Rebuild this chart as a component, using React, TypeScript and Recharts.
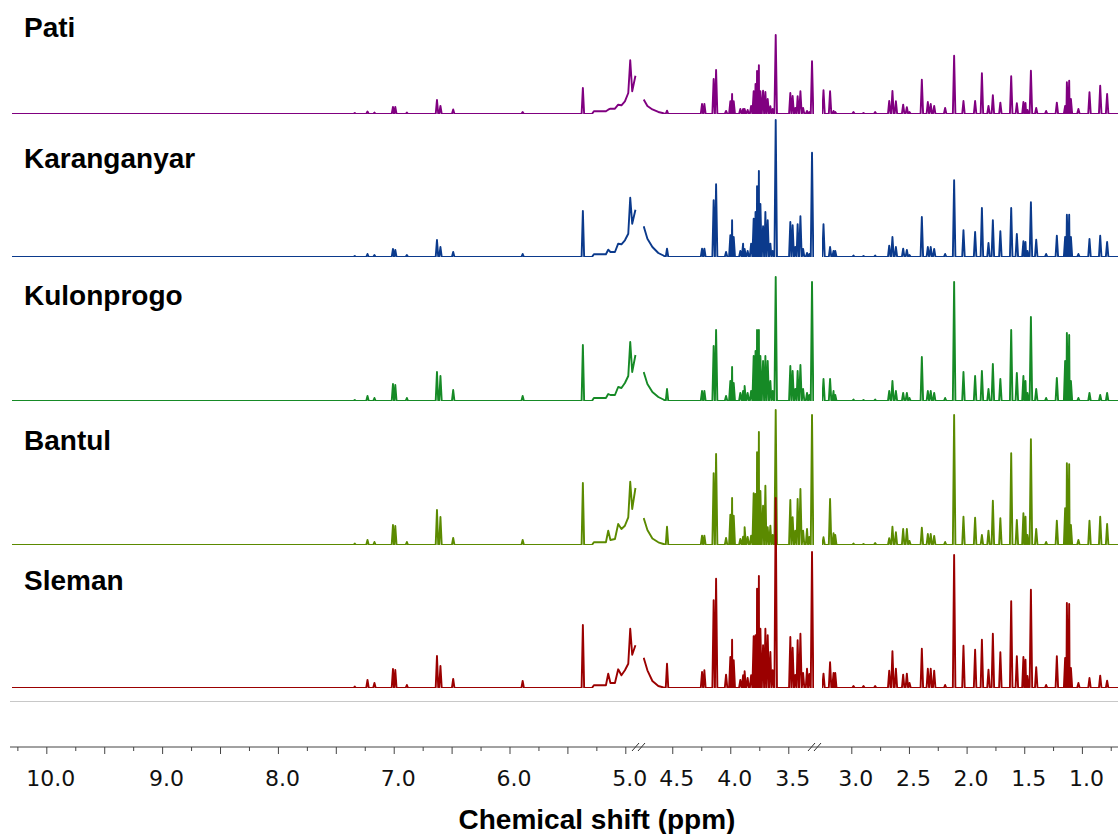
import React from 'react';
import { LineChart, Line, XAxis, YAxis } from 'recharts';

// peak positions (ppm), shared by all five extracts
const PEAK_PPM = [
  7.34, 7.23, 7.17, 7.01, 6.99, 6.89, 6.63, 6.60, 6.49, 5.89, 5.37,
  4.553, 4.251, 4.231, 4.151, 4.130, 4.044, 4.007, 3.992, 3.978, 3.921, 3.897, 3.884,
  3.858, 3.828, 3.806, 3.790, 3.777, 3.761, 3.748, 3.725, 3.705, 3.685, 3.662, 3.642,
  3.616, 3.490, 3.470, 3.447, 3.427, 3.403, 3.380, 3.346, 3.326, 3.303,
  3.247, 3.190, 3.160, 3.145, 2.987, 2.90, 2.799, 2.677, 2.649, 2.619, 2.556, 2.524,
  2.501, 2.394, 2.342, 2.317, 2.287, 2.192, 2.114, 2.033, 1.932, 1.873, 1.816, 1.778,
  1.713, 1.619, 1.570, 1.513, 1.495, 1.478, 1.448, 1.402, 1.316, 1.223, 1.151, 1.136,
  1.116, 1.101, 1.036, 0.940, 0.847, 0.787,
];

// peak heights (arbitrary units) per extract, same order as PEAK_PPM
const PATI_PEAKS = [
  1, 2.5, 1.5, 7, 7, 1.5, 14, 8, 4.5, 2, 26,
  3.3, 10, 10, 35, 44, 3, 12.7, 20, 12.7, 5, 5, 5,
  4, 8, 22.7, 30, 43, 48.7, 22.7, 23.3, 22, 15, 7.7, 5,
  79, 21, 18, 6, 17.7, 22.7, 6, 3, 2, 52.7,
  23.7, 22.7, 3, 2, 2, 1, 2, 13, 23, 12.7, 9.3, 6.7,
  2, 34.3, 12, 10, 8, 6, 58.3, 13, 13, 40.7, 8, 18.7,
  11.3, 37.7, 10.7, 12, 11, 4, 43.3, 6, 3, 11.3, 8, 31.7,
  33.3, 15, 5, 21.7, 28.3, 20,
];
const KARANGANYAR_PEAKS = [
  1, 3, 2, 8, 7, 2, 17, 10, 5, 3, 46,
  8.3, 8.3, 8.3, 56.7, 72.7, 5, 21.7, 36.7, 20, 6, 13.3, 8,
  6, 13.3, 38.3, 45, 70.7, 86, 53, 30.7, 45, 36.7, 13.3, 6,
  137, 35, 31.7, 10, 32.7, 40.7, 8, 4, 3, 104.3,
  32.7, 10, 6, 6, 1.5, 1, 1.5, 11.3, 20, 10, 8.3, 7,
  2, 40, 10, 10, 8, 3, 76.7, 26.7, 25, 49, 14, 36.7,
  25.7, 49, 23, 15.7, 15, 6, 54.7, 17.3, 3, 21.3, 20, 42.3,
  42.3, 20, 3, 18, 21.3, 15,
];
const KULONPROGO_PEAKS = [
  1, 5, 3, 17, 16, 3, 29, 25, 11, 5, 56,
  12, 10, 10, 55, 71, 5, 20, 34, 18, 8, 10, 15,
  8, 10, 45, 50, 71, 71, 45, 40, 45, 40, 20, 10,
  124, 35, 30, 12, 30, 36, 12, 8, 6, 119,
  22, 22, 10, 6, 1.5, 1, 1.5, 10, 20, 10, 8, 8,
  3, 44, 10, 10, 8, 3, 119, 29, 25, 30, 12, 37,
  22, 71, 28, 25, 20, 8, 84, 12, 3, 23, 40, 68,
  66, 20, 3, 8, 6, 8,
];
const BANTUL_PEAKS = [
  1.5, 5, 3, 20, 19, 3, 35, 28, 7, 5, 62,
  18.3, 9.3, 9.3, 71.7, 91, 7, 30.3, 47, 29.3, 6, 8.3, 17.7,
  8, 9.3, 51.7, 51, 92.7, 113, 54, 39.3, 59.3, 17.7, 19.3, 10,
  135, 45, 27.7, 14.3, 46, 56, 14.3, 16, 8, 130,
  7.7, 46, 11.7, 10, 1.5, 1, 2, 6.7, 18.3, 12.7, 16, 16,
  4, 17.3, 11, 11, 9, 3, 130, 28.3, 27.3, 10, 14.3, 44.3,
  26.7, 91.7, 25, 31.7, 28.3, 10, 105.7, 16, 3, 24.3, 36.7, 81.7,
  80.7, 20, 5, 24.3, 28.3, 21,
];
const SLEMAN_PEAKS = [
  1.5, 8, 5, 19, 18, 3, 32, 22, 9, 7, 63,
  24.3, 16, 17.7, 87.7, 109.3, 13.3, 31, 48.3, 27.7, 8, 12.7, 16.7,
  10, 12.7, 51.7, 52.7, 99.3, 112, 59.3, 42.7, 59.3, 52.7, 36, 17.7,
  190, 51, 40.3, 13, 47.7, 54.3, 15, 19.3, 14, 136,
  14.3, 25.7, 15, 15, 2, 2, 2, 17.3, 36.7, 19.3, 13.3, 14.3,
  5, 39.3, 19.3, 19.3, 17.3, 3, 133, 42.3, 38.3, 48.3, 18.3, 54.3,
  35.7, 86.7, 31.7, 31, 28.3, 12, 98.3, 20.7, 3, 31.7, 30, 85,
  84, 20, 5, 10, 12.3, 7.3,
];

// broad water shoulder either side of the suppressed region
const RAMP_A_PPM = [5.292, 5.275, 5.171, 5.151, 5.132, 5.093, 5.065, 5.037, 5.007, 4.978, 4.961, 4.944, 4.916];
const PATI_RAMP_A = [0, 2.7, 2.7, 4.3, 5.3, 5.3, 9.3, 8.7, 12.7, 21, 53.7, 22.7, 38.3];
const KARANGANYAR_RAMP_A = [0, 2.7, 2.7, 7.3, 5, 5, 13.3, 12.7, 16.7, 23.3, 59.3, 33.3, 47.3];
const KULONPROGO_RAMP_A = [0, 3, 3, 7, 6, 6, 14, 13, 18, 25, 59, 29, 46];
const BANTUL_RAMP_A = [0, 2.7, 2.7, 14.3, 5, 6, 21, 16, 19.3, 27.7, 63.3, 36, 57];
const SLEMAN_RAMP_A = [0, 2.7, 2.7, 14.3, 5, 5, 18.7, 12.7, 17.7, 24.3, 59.3, 33.3, 42.7];

const RAMP_B_PPM = [4.754, 4.722, 4.679, 4.628, 4.584];
const PATI_RAMP_B = [14.4, 8, 4.5, 2, 0.7];
const KARANGANYAR_RAMP_B = [30.7, 18.3, 10, 4, 1.5];
const KULONPROGO_RAMP_B = [29, 17, 9, 4, 1.5];
const BANTUL_RAMP_B = [27, 15, 6.5, 2.7, 1];
const SLEMAN_RAMP_B = [30.3, 17.7, 7, 2, 0.5];

const EDGE_PPM = [10.3, 3.28, 3.26, 0.69];

const TICKS_A = [10.25, 10, 9.75, 9.5, 9.25, 9, 8.75, 8.5, 8.25, 8, 7.75, 7.5, 7.25, 7, 6.75, 6.5, 6.25, 6, 5.75, 5.5, 5.25, 5];
const TICKS_B = [4.5, 4.25, 4, 3.75, 3.5];
const TICKS_C = [3, 2.75, 2.5, 2.25, 2, 1.75, 1.5, 1.25, 1, 0.75];
const LABELS_A = [10, 9, 8, 7, 6, 5];
const LABELS_BC = [4.5, 4, 3.5, 3, 2.5, 2, 1.5, 1];

const SPECTRA = [
  { name: 'Pati', color: '#800080', base: 113.5, labelY: 37, peaks: PATI_PEAKS, rampA: PATI_RAMP_A, rampB: PATI_RAMP_B },
  { name: 'Karanganyar', color: '#0b3a8c', base: 257, labelY: 168, peaks: KARANGANYAR_PEAKS, rampA: KARANGANYAR_RAMP_A, rampB: KARANGANYAR_RAMP_B },
  { name: 'Kulonprogo', color: '#168a26', base: 400.8, labelY: 305, peaks: KULONPROGO_PEAKS, rampA: KULONPROGO_RAMP_A, rampB: KULONPROGO_RAMP_B },
  { name: 'Bantul', color: '#5b8a00', base: 544.6, labelY: 450, peaks: BANTUL_PEAKS, rampA: BANTUL_RAMP_A, rampB: BANTUL_RAMP_B },
  { name: 'Sleman', color: '#9b0000', base: 688, labelY: 590, peaks: SLEMAN_PEAKS, rampA: SLEMAN_RAMP_A, rampB: SLEMAN_RAMP_B },
];

// broken x axis: each piece keeps the same ppm scale (~116 px / ppm)
const SEGMENTS = [
  { hi: 10.3, lo: 4.9, left: 12.06, width: 625.3 },
  { hi: 4.76, lo: 3.28, left: 642.6, width: 171.7 },
  { hi: 3.26, lo: 0.69, left: 821.8, width: 296.3 },
];
const AXIS_SEGMENTS = [
  { hi: 10.318, lo: 4.886, left: 10, width: 629, ticks: TICKS_A, labels: LABELS_A, majorStep: 0.5 },
  { hi: 4.791, lo: 3.2655, left: 639, width: 177, ticks: TICKS_B, labels: LABELS_BC, majorStep: 0.5 },
  { hi: 3.3105, lo: 0.6912, left: 816, width: 302, ticks: TICKS_C, labels: LABELS_BC, majorStep: 0.5 },
];

const PEAK_HALF_WIDTH = 0.011;
const ROW_H = 250;
const AXIS_Y = 747;
const PAD = 24;

type Pt = { ppm: number; v: number };

const buildPoints = (peaks: number[], rampA: number[], rampB: number[]): Pt[] => {
  const pts: Pt[] = [];
  PEAK_PPM.forEach((p, i) => {
    pts.push({ ppm: p + PEAK_HALF_WIDTH, v: 0 }, { ppm: p, v: peaks[i] }, { ppm: p - PEAK_HALF_WIDTH, v: 0 });
  });
  RAMP_A_PPM.forEach((p, i) => pts.push({ ppm: p, v: rampA[i] }));
  RAMP_B_PPM.forEach((p, i) => pts.push({ ppm: p, v: rampB[i] }));
  EDGE_PPM.forEach((p) => pts.push({ ppm: p, v: 0 }));
  return pts.sort((a, b) => b.ppm - a.ppm);
};

const AxisTick = (props: any) => {
  const { x, y, payload, labels, majorStep } = props;
  const val = payload.value as number;
  const isMajor = Math.abs(val / majorStep - Math.round(val / majorStep)) < 1e-6;
  const hasLabel = labels.some((l: number) => Math.abs(l - val) < 1e-6);
  return (
    <g>
      <line x1={x} x2={x} y1={y} y2={y + (isMajor ? 7 : 4)} stroke="#444" strokeWidth={1} />
      {hasLabel && (
        <text x={x + 4} y={y + 39} textAnchor="middle" fontFamily="DejaVu Sans, Verdana, sans-serif" fontSize={22} fill="#111">
          {val.toFixed(1)}
        </text>
      )}
    </g>
  );
};

const App: React.FC = () => {
  const series = SPECTRA.map((s) => ({ ...s, points: buildPoints(s.peaks, s.rampA, s.rampB) }));

  return (
    <div style={{ position: 'absolute', left: 0, top: 0, width: 1118, height: 834, overflow: 'hidden', background: '#fff' }}>
      <svg width={1118} height={834} style={{ position: 'absolute', left: 0, top: 0 }}>
        {SPECTRA.map((s) => (
          <text key={s.name} x={24} y={s.labelY} fontFamily="Liberation Sans, Arial, sans-serif" fontWeight="bold" fontSize={28} fill="#000">
            {s.name}
          </text>
        ))}
        <line x1={10} x2={1118} y1={701.5} y2={701.5} stroke="#c8c8c8" strokeWidth={1.2} />
        <text x={597} y={829} textAnchor="middle" fontFamily="Liberation Sans, Arial, sans-serif" fontWeight="bold" fontSize={28} fill="#000">
          Chemical shift (ppm)
        </text>
      </svg>

      {series.map((s) =>
        SEGMENTS.map((seg, j) => {
          const data = s.points.filter((p) => p.ppm <= seg.hi + 1e-9 && p.ppm >= seg.lo - 1e-9);
          return (
            <div key={`${s.name}-${j}`} style={{ position: 'absolute', left: seg.left, top: s.base - ROW_H, width: seg.width, height: ROW_H + 2 }}>
              <LineChart width={seg.width} height={ROW_H + 2} data={data} margin={{ top: 0, right: 0, bottom: 2, left: 0 }}>
                <XAxis dataKey="ppm" type="number" domain={[seg.lo, seg.hi]} reversed allowDataOverflow hide />
                <YAxis type="number" domain={[0, ROW_H]} allowDataOverflow hide />
                <Line
                  type="linear"
                  dataKey="v"
                  stroke={s.color}
                  strokeWidth={1.9}
                  strokeLinejoin="round"
                  dot={false}
                  isAnimationActive={false}
                />
              </LineChart>
            </div>
          );
        })
      )}

      {AXIS_SEGMENTS.map((ax, j) => (
        <div key={`axis-${j}`} style={{ position: 'absolute', left: ax.left - PAD, top: AXIS_Y - 10, width: ax.width + 2 * PAD, height: 80 }}>
          <LineChart
            width={ax.width + 2 * PAD}
            height={80}
            data={[{ ppm: ax.hi }, { ppm: ax.lo }]}
            margin={{ top: 0, right: PAD, bottom: 0, left: PAD }}
          >
            <XAxis
              dataKey="ppm"
              type="number"
              domain={[ax.lo, ax.hi]}
              reversed
              allowDataOverflow
              ticks={ax.ticks}
              interval={0}
              height={70}
              tickSize={0}
              tickMargin={0}
              tickLine={false}
              axisLine={{ stroke: '#444', strokeWidth: 1 }}
              tick={<AxisTick labels={ax.labels} majorStep={ax.majorStep} />}
            />
            <YAxis hide domain={[0, 1]} />
          </LineChart>
        </div>
      ))}

      <svg width={1118} height={834} style={{ position: 'absolute', left: 0, top: 0, pointerEvents: 'none' }}>
        {[632, 638, 808, 814].map((x) => (
          <line key={x} x1={x} y1={AXIS_Y + 4} x2={x + 7} y2={AXIS_Y - 4} stroke="#333" strokeWidth={1} />
        ))}
      </svg>
    </div>
  );
};

export default App;
